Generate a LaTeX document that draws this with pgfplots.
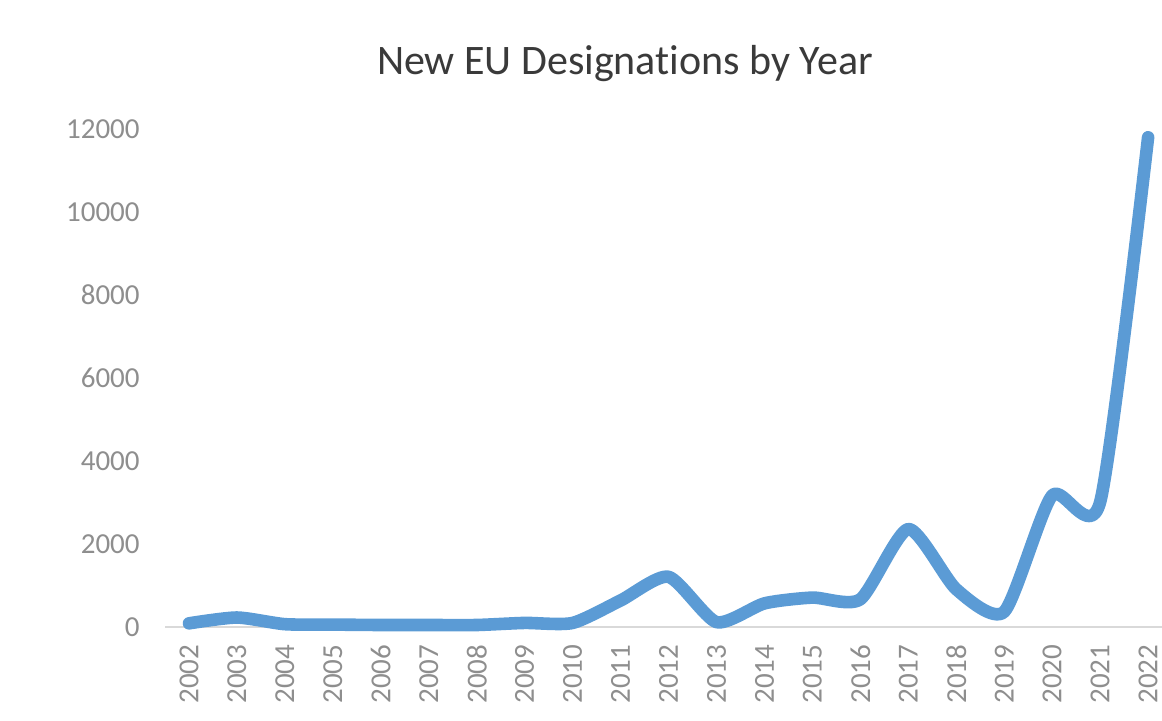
\documentclass[border=0pt]{standalone}
\usepackage{pgfplots}
\pgfplotsset{compat=1.18}
\usepackage{fontspec}
\setmainfont{Carlito}[Ligatures=NoCommon]
\definecolor{lineblue}{HTML}{5B9BD5}
\definecolor{tickgray}{HTML}{8E8E8E}
\definecolor{axisgray}{HTML}{D9D9D9}
\definecolor{titlegray}{HTML}{3A3A3A}
\begin{document}
\begin{tikzpicture}
\begin{axis}[
  scale only axis,
  width=498.5pt, height=249.25pt,
  xmin=2001.5, xmax=2022.29,
  ymin=0, ymax=12000,
  xtick={2002,2003,...,2022},
  ytick={0,2000,...,12000},
  xticklabels={2002,2003,2004,2005,2006,2007,2008,2009,2010,2011,2012,2013,2014,2015,2016,2017,2018,2019,2020,2021,2022},
  scaled y ticks=false,
  /pgf/number format/assume math mode=true,
  yticklabel={\pgfmathprintnumber[fixed,1000 sep={}]{\tick}},
  tick style={draw=none},
  major tick length=0pt,
  axis x line*=bottom,
  axis y line*=left,
  x axis line style={draw=axisgray, line width=1pt, -},
  y axis line style={draw=none},
  ticklabel style={font=\fontsize{14.5}{16}\selectfont, text=tickgray, inner sep=0pt},
  xticklabel style={rotate=90, anchor=east},
  yticklabel style={anchor=east},
  xticklabel shift=8.5pt,
  yticklabel shift=12.5pt,
  clip=false,
]
\addplot[color=lineblue, line width=6.3pt, smooth, tension=0.4, line cap=round, line join=round] coordinates {
(2002,100) (2003,240) (2004,80) (2005,70) (2006,60) (2007,60) (2008,60)
(2009,110) (2010,110) (2011,650) (2012,1220) (2013,130) (2014,580)
(2015,720) (2016,680) (2017,2370) (2018,920) (2019,380) (2020,3180)
(2021,3020) (2022,11800)
};
\end{axis}
\node[anchor=base, text=titlegray, font=\fontsize{21}{24}\selectfont, inner sep=0pt] at (230pt,276.25pt) {New EU Designations by Year};
\pgfresetboundingbox
\useasboundingbox (-82.5pt,-46.75pt) rectangle (498.5pt,313.75pt);
\end{tikzpicture}
\end{document}
